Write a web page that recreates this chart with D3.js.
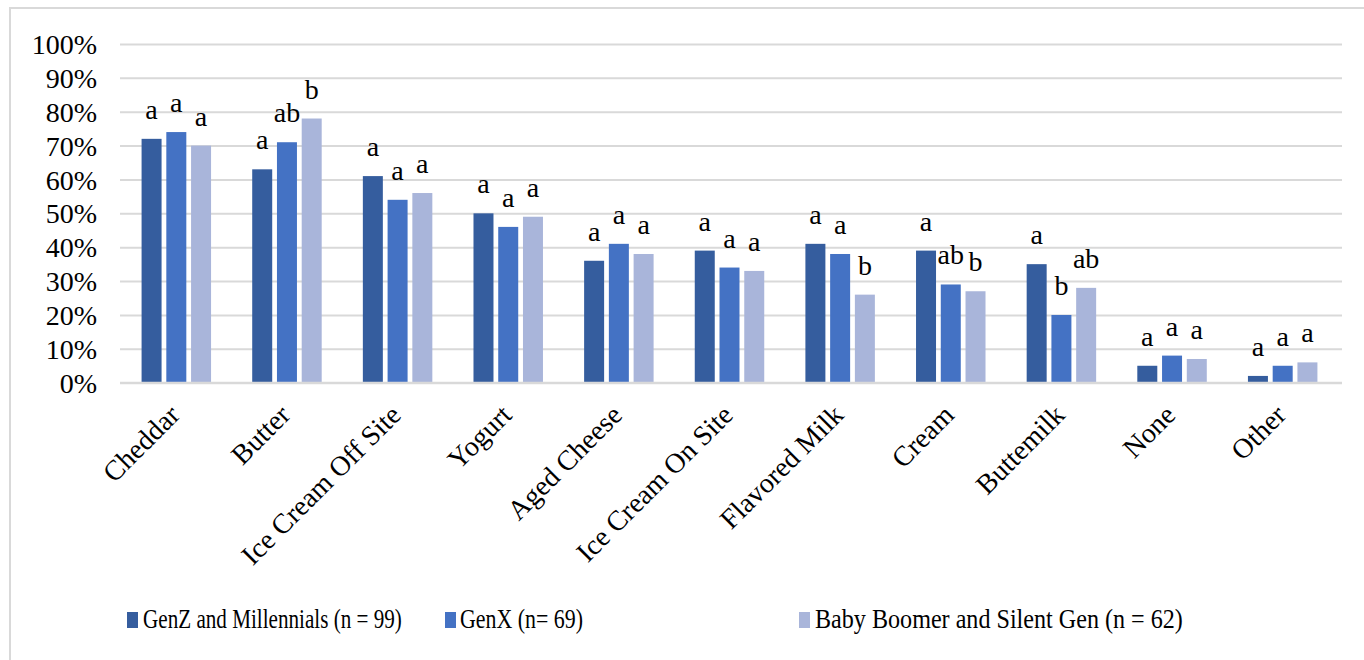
<!DOCTYPE html>
<html>
<head>
<meta charset="utf-8">
<script src="https://cdn.jsdelivr.net/npm/d3@7"></script>
<style>
  html, body { margin: 0; padding: 0; background: #fff; }
  svg { display: block; font-family: "Liberation Serif", "Times New Roman", serif; }
</style>
</head>
<body>
<svg id="chart" width="1364" height="660"></svg>
<script>
// Product categories along the x axis
const categories = ["Cheddar", "Butter", "Ice Cream Off Site", "Yogurt", "Aged Cheese",
  "Ice Cream On Site", "Flavored Milk", "Cream", "Buttemilk", "None", "Other"];

// Series names (legend entries)
const seriesNames = ["GenZ and Millennials (n = 99)", "GenX (n= 69)", "Baby Boomer and Silent Gen (n = 62)"];

// Percent of respondents per category
const genZValues   = [72, 63, 61, 50, 36, 39, 41, 39, 35, 5, 2];
const genXValues   = [74, 71, 54, 46, 41, 34, 38, 29, 20, 8, 5];
const boomerValues = [70, 78, 56, 49, 38, 33, 26, 27, 28, 7, 6];

// Significance-group letters above each bar
const genZLetters   = ["a", "a", "a", "a", "a", "a", "a", "a", "a", "a", "a"];
const genXLetters   = ["a", "ab", "a", "a", "a", "a", "a", "ab", "b", "a", "a"];
const boomerLetters = ["a", "b", "a", "a", "a", "a", "b", "b", "ab", "a", "a"];

// Y axis tick values
const yTicks = [0, 10, 20, 30, 40, 50, 60, 70, 80, 90, 100];

const colors = ["#355D9E", "#4472C4", "#A9B5DA"];

const series = [
  { name: seriesNames[0], values: genZValues, letters: genZLetters },
  { name: seriesNames[1], values: genXValues, letters: genXLetters },
  { name: seriesNames[2], values: boomerValues, letters: boomerLetters }
];

const svg = d3.select("#chart");
const FONT = 28;

// Chart frame
svg.append("rect")
  .attr("x", 10).attr("y", 8)
  .attr("width", 1420).attr("height", 720)
  .attr("fill", "none").attr("stroke", "#D9D9D9").attr("stroke-width", 2);

const plot = { left: 121, right: 1338, top: 44, bottom: 382.7 };

const x = d3.scaleBand()
  .domain(categories)
  .range([plot.left, plot.right])
  .paddingInner(0.372)
  .paddingOuter(0.186);

const xInner = d3.scaleBand()
  .domain(d3.range(series.length))
  .range([0, x.bandwidth()])
  .paddingInner(0.192)
  .paddingOuter(0);

const y = d3.scaleLinear().domain([0, 100]).range([plot.bottom, plot.top]);

// Gridlines and percentage ticks
const yAxis = d3.axisLeft(y)
  .tickValues(yTicks)
  .tickSize(-(1342 - 120))
  .tickFormat(d => d + "%");

const gy = svg.append("g")
  .attr("transform", `translate(120,0)`)
  .call(yAxis);
gy.select(".domain").remove();
gy.selectAll(".tick line").attr("stroke", "#D9D9D9").attr("stroke-width", 2);
gy.selectAll(".tick text")
  .attr("x", -23)
  .attr("dy", "0.34em")
  .attr("fill", "#000")
  .style("font-family", "'Liberation Serif', serif")
  .style("font-size", FONT + "px");

// Bars with their significance letters
series.forEach((s, si) => {
  const rows = categories.map((c, ci) => ({ c, v: s.values[ci], l: s.letters[ci] }));

  svg.append("g")
    .attr("fill", colors[si])
    .selectAll("rect")
    .data(rows)
    .join("rect")
    .attr("x", d => x(d.c) + xInner(si))
    .attr("y", d => y(d.v))
    .attr("width", xInner.bandwidth())
    .attr("height", d => y(0) - y(d.v));

  svg.append("g")
    .selectAll("text")
    .data(rows)
    .join("text")
    .attr("x", d => x(d.c) + xInner(si) + xInner.bandwidth() / 2)
    .attr("y", d => y(d.v) - 20)
    .attr("text-anchor", "middle")
    .attr("font-size", FONT)
    .attr("fill", "#000")
    .text(d => d.l);
});

// Category labels, rotated
const xAxis = d3.axisBottom(x).tickSize(0).tickPadding(0);
const gx = svg.append("g")
  .attr("transform", `translate(0,${plot.bottom})`)
  .call(xAxis);
gx.select(".domain").remove();
gx.selectAll(".tick text")
  .attr("fill", "#000")
  .style("font-family", "'Liberation Serif', serif")
  .style("font-size", FONT + "px")
  .attr("text-anchor", "end")
  .attr("dy", 0)
  .attr("y", 0)
  .attr("transform", "translate(5,34) rotate(-45)");

// Axis baseline
svg.append("line")
  .attr("x1", 120).attr("x2", 1342)
  .attr("y1", y(0)).attr("y2", y(0))
  .attr("stroke", "#D9D9D9").attr("stroke-width", 2);

// Legend: condensed serif entries, each squeezed to its slot width
const legendLayout = [
  { mx: 127, tx: 143, w: 259 },
  { mx: 445, tx: 460, w: 123 },
  { mx: 799, tx: 815, w: 368 }
];
const legend = svg.append("g");
series.forEach((s, i) => {
  const L = legendLayout[i];
  legend.append("rect")
    .attr("x", L.mx).attr("y", 612)
    .attr("width", 11).attr("height", 16)
    .attr("fill", colors[i]);
  const t = legend.append("text")
    .attr("x", 0).attr("y", 0)
    .attr("font-size", FONT)
    .attr("fill", "#000")
    .text(s.name);
  const natural = t.node().getComputedTextLength();
  t.attr("transform", `translate(${L.tx},628) scale(${L.w / natural},1)`);
});
</script>
</body>
</html>
